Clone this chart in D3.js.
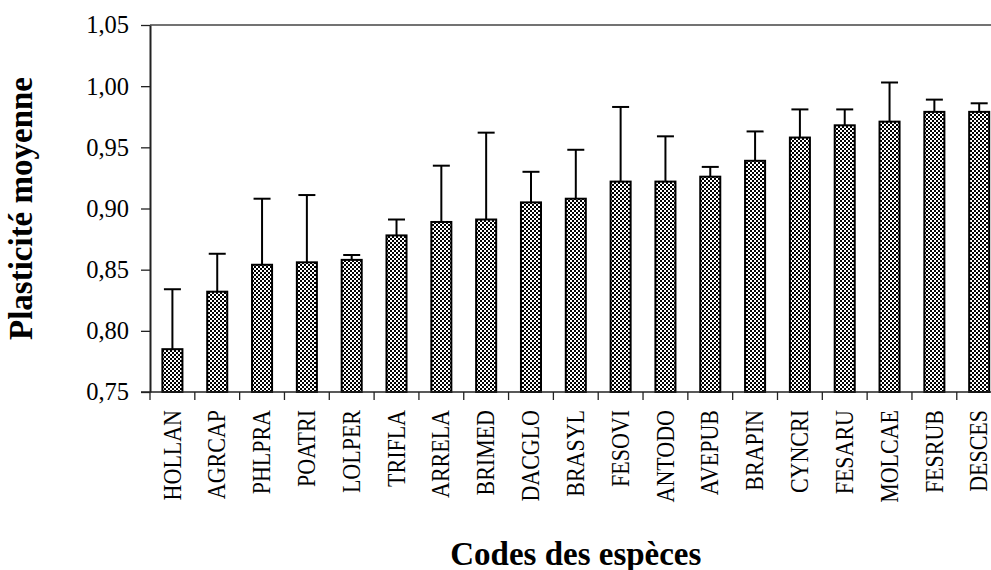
<!DOCTYPE html>
<html>
<head>
<meta charset="utf-8">
<script src="https://cdn.jsdelivr.net/npm/d3@7"></script>
<style>
  html, body { margin: 0; padding: 0; background: #fff; }
  svg { display: block; }
</style>
</head>
<body>
<svg id="chart" width="991" height="570"></svg>
<script>
// ---- data ----
const categories = ["HOLLAN","AGRCAP","PHLPRA","POATRI","LOLPER","TRIFLA","ARRELA","BRIMED","DACGLO","BRASYL","FESOVI","ANTODO","AVEPUB","BRAPIN","CYNCRI","FESARU","MOLCAE","FESRUB","DESCES"];
const meanValues = [0.785,0.832,0.854,0.856,0.858,0.878,0.889,0.891,0.905,0.908,0.922,0.922,0.926,0.939,0.958,0.968,0.971,0.979,0.979];
const upperValues = [0.834,0.863,0.908,0.911,0.862,0.891,0.935,0.962,0.930,0.948,0.983,0.959,0.934,0.963,0.981,0.981,1.003,0.989,0.986];
const yTickValues = [0.75,0.80,0.85,0.90,0.95,1.00,1.05];
const yTitle = "Plasticité moyenne";
const xTitle = "Codes des espèces";

// ---- layout ----
const svg = d3.select("#chart");
const mLeft = 150, mRight = 1001.6, mTop = 25, mBottom = 392;
const serif = "'Liberation Serif', 'Times New Roman', serif";

const x = d3.scaleBand().domain(categories).range([mLeft, mRight]).padding(0);
const y = d3.scaleLinear().domain([0.75, 1.05]).range([mBottom, mTop]);
const bw = x.bandwidth();
const barW = bw * 0.447;

// pattern
const defs = svg.append("defs");
const pat = defs.append("pattern").attr("id", "checker")
  .attr("patternUnits", "userSpaceOnUse").attr("width", 4).attr("height", 4);
pat.append("rect").attr("width", 4).attr("height", 4).attr("fill", "#fff");
pat.append("rect").attr("x", 0).attr("y", 0).attr("width", 2).attr("height", 2).attr("fill", "#000");
pat.append("rect").attr("x", 2).attr("y", 2).attr("width", 2).attr("height", 2).attr("fill", "#000");

// top frame line
svg.append("line")
  .attr("x1", mLeft).attr("x2", mRight)
  .attr("y1", y(1.05)).attr("y2", y(1.05))
  .attr("stroke", "#444").attr("stroke-width", 1.3);

// bars
const data = categories.map((c, i) => ({ c, m: meanValues[i], u: upperValues[i] }));
svg.append("g").selectAll("rect").data(data).join("rect")
  .attr("x", d => x(d.c) + (bw - barW) / 2)
  .attr("y", d => y(d.m))
  .attr("width", barW)
  .attr("height", d => y(0.75) - y(d.m))
  .attr("fill", "url(#checker)")
  .attr("stroke", "#000").attr("stroke-width", 2);

// error bars
const eb = svg.append("g").attr("stroke", "#000").attr("stroke-width", 2);
eb.selectAll("line.v").data(data).join("line").attr("class", "v")
  .attr("x1", d => x(d.c) + bw / 2).attr("x2", d => x(d.c) + bw / 2)
  .attr("y1", d => y(d.m)).attr("y2", d => y(d.u));
eb.selectAll("line.cap").data(data).join("line").attr("class", "cap")
  .attr("x1", d => x(d.c) + bw / 2 - 8.5).attr("x2", d => x(d.c) + bw / 2 + 8.5)
  .attr("y1", d => y(d.u)).attr("y2", d => y(d.u));

// y axis
const yAxis = svg.append("g").attr("transform", `translate(${mLeft},0)`)
  .call(d3.axisLeft(y).tickValues(yTickValues)
    .tickFormat(d => d.toFixed(2).replace(".", ","))
    .tickSize(9).tickPadding(12).tickSizeOuter(0));
yAxis.select(".domain").attr("stroke", "#222").attr("stroke-width", 2);
yAxis.selectAll(".tick line").attr("stroke", "#222").attr("stroke-width", 1.3);
yAxis.selectAll("text").attr("font-family", serif).attr("font-size", 24.5).attr("fill", "#000");

// x axis (labels at band centers)
const xAxis = svg.append("g").attr("transform", `translate(0,${mBottom})`)
  .call(d3.axisBottom(x).tickSize(0).tickSizeOuter(0));
xAxis.select(".domain").remove();
xAxis.selectAll("text")
  .attr("font-family", serif).attr("font-size", 22).attr("fill", "#000")
  .attr("transform", "rotate(-90) scale(1,1.12)")
  .attr("x", -18).attr("y", 0).attr("dy", "0.33em")
  .style("text-anchor", "end");

// x axis line and boundary ticks
svg.append("line")
  .attr("x1", mLeft - 9).attr("x2", mRight)
  .attr("y1", mBottom).attr("y2", mBottom)
  .attr("stroke", "#222").attr("stroke-width", 1.5);
const bounds = categories.map(c => x(c));
svg.append("g").selectAll("line").data(bounds).join("line")
  .attr("x1", d => d).attr("x2", d => d)
  .attr("y1", mBottom).attr("y2", mBottom + 8)
  .attr("stroke", "#222").attr("stroke-width", 1.3);

// titles
svg.append("text")
  .attr("transform", `translate(32,${(mTop + mBottom) / 2}) rotate(-90)`)
  .attr("text-anchor", "middle")
  .attr("font-family", serif).attr("font-weight", "bold").attr("font-size", 33)
  .text(yTitle);
svg.append("text")
  .attr("x", (mLeft + mRight) / 2).attr("y", 565)
  .attr("text-anchor", "middle")
  .attr("font-family", serif).attr("font-weight", "bold").attr("font-size", 33)
  .text(xTitle);
</script>
</body>
</html>
